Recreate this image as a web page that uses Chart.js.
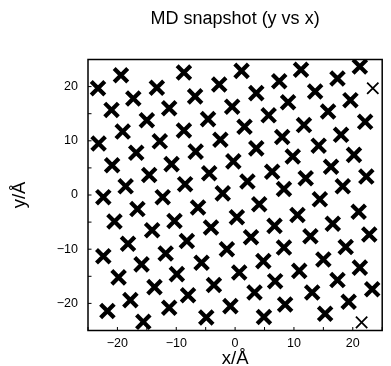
<!DOCTYPE html>
<html>
<head>
<meta charset="utf-8">
<script src="https://cdn.jsdelivr.net/npm/chart.js@4.4.1/dist/chart.umd.min.js"></script>
<style>
  html, body { margin: 0; padding: 0; background: #fff; overflow: hidden; }
  #wrap { width: 396px; height: 366px; }
</style>
</head>
<body>
<div id="wrap"><canvas id="c" width="396" height="366"></canvas></div>
<script>
// Atom positions (Å): dense clusters
const siteX = [-19.4,-8.7,-23.3,-13.3,-17.3,-21.0,-11.2,-15.0,-19.1,-8.7,-23.2,-12.8,-16.8,-20.9,-10.8,-14.6,-18.6,-8.5,-22.4,-12.3,-16.6,-20.5,-10.3,-14.1,-18.2,-8.2,-22.4,-11.8,-15.9,-19.8,-9.9,-13.7,-17.8,-8.0,-21.7,-11.2,-15.6,
  1.1,-2.7,7.5,-6.8,3.6,-0.5,-4.6,5.7,1.6,-2.5,8.0,-6.7,3.6,-0.3,-4.4,6.3,2.1,-2.1,8.3,
  11.2,21.2,17.4,13.6,9.0,19.6,15.8,11.7,22.1,18.0,14.2,9.8,20.2,16.3,12.0,22.3,18.3,14.4,
  -6.3,4.1,0.3,-4.1,6.7,2.7,-1.4,8.3,-5.7,4.8,0.7,-3.6,6.8,3.3,-0.8,8.5,-4.9,4.9,
  10.6,21.0,16.6,12.8,22.8,18.8,15.0,10.9,21.2,17.4,23.3,13.1,19.3,15.3];
const siteY = [22.1,22.6,19.7,19.8,17.8,15.7,16.0,13.8,11.7,11.9,9.5,9.9,7.8,5.5,5.7,3.7,1.6,2.0,-0.4,-0.4,-2.6,-4.9,-4.8,-6.5,-9.0,-8.5,-11.3,-10.8,-12.8,-15.2,-14.6,-17.0,-19.4,-18.5,-21.4,-20.8,-23.4,
  22.9,20.4,21.0,18.2,18.8,16.3,14.0,14.7,12.6,10.2,10.7,8.0,8.6,6.2,4.0,4.3,2.5,0.3,1.1,
  23.1,23.7,21.5,19.1,17.1,17.5,15.4,12.9,13.5,11.1,9.1,7.1,7.4,5.2,3.1,3.4,1.6,-0.8,
  -2.3,-1.7,-4.1,-6.0,-5.7,-7.8,-10.0,-9.7,-12.5,-12.2,-14.3,-16.6,-15.9,-18.0,-20.5,-20.2,-22.6,-22.5,
  -3.7,-3.1,-5.3,-7.6,-7.3,-9.6,-11.9,-14.0,-13.4,-15.7,-17.4,-18.0,-19.7,-21.9];
// Sparse (single) markers
const thinX = [23.4, 21.5];
const thinY = [19.7, -23.5];
const tickValues = [-20, -10, 0, 10, 20];

const FONT = '"Liberation Sans", Arial, Helvetica, sans-serif';
const toPts = (xs, ys) => xs.map((x, i) => ({ x: x, y: ys[i] }));
const fmt = v => tickValues.includes(v) ? String(v).replace('-', '\u2212') : '';

const frame = {
  id: 'frame',
  afterDraw(chart) {
    const { ctx, chartArea: a, scales } = chart;
    ctx.save();
    ctx.strokeStyle = '#000';
    ctx.lineWidth = 1.5;
    ctx.strokeRect(a.left, a.top, a.right - a.left, a.bottom - a.top);
    ctx.lineWidth = 1;
    ctx.beginPath();
    scales.x.ticks.forEach(t => {
      const p = scales.x.getPixelForValue(t.value);
      ctx.moveTo(p, a.bottom); ctx.lineTo(p, a.bottom - 3.5);
    });
    scales.y.ticks.forEach(t => {
      const p = scales.y.getPixelForValue(t.value);
      ctx.moveTo(a.left, p); ctx.lineTo(a.left + 3.5, p);
    });
    ctx.stroke();
    ctx.restore();
  }
};

new Chart(document.getElementById('c'), {
  type: 'scatter',
  data: {
    datasets: [
      { data: toPts(siteX, siteY), pointStyle: 'crossRot', radius: 9.6, borderWidth: 4.2,
        borderColor: '#000', backgroundColor: '#000', hoverRadius: 9.6 },
      { data: toPts(thinX, thinY), pointStyle: 'crossRot', radius: 8, borderWidth: 1.8,
        borderColor: '#000', backgroundColor: '#000', hoverRadius: 8 }
    ]
  },
  options: {
    responsive: false,
    animation: false,
    layout: { padding: { left: 0, right: 3, top: 0, bottom: 0 } },
    plugins: {
      legend: { display: false },
      tooltip: { enabled: false },
      title: {
        display: true, text: 'MD snapshot (y vs x)', fullSize: false,
        color: '#000', font: { family: FONT, size: 18, weight: 'normal' },
        padding: { top: 8.7, bottom: 29.2 }
      }
    },
    scales: {
      x: {
        type: 'linear', min: -25, max: 25,
        ticks: { stepSize: 5, autoSkip: false, maxRotation: 0, callback: fmt, color: '#000',
                 font: { family: FONT, size: 12.5 }, padding: 6 },
        grid: { display: false, drawTicks: false },
        border: { display: false },
        title: { display: true, text: 'x/Å', color: '#000', font: { family: FONT, size: 18.5, lineHeight: 0.8 },
                 padding: { top: 0, bottom: 0 } },
        afterFit(s) { s.height = 35.5; }
      },
      y: {
        type: 'linear', min: -25, max: 25,
        ticks: { stepSize: 5, autoSkip: false, callback: fmt, color: '#000',
                 font: { family: FONT, size: 12.5 }, padding: 10 },
        grid: { display: false, drawTicks: false },
        border: { display: false },
        title: { display: true, text: 'y/Å', color: '#000', font: { family: FONT, size: 18.5 },
                 padding: { top: 9, bottom: 0 } },
        afterFit(s) { s.width = 88; }
      }
    }
  },
  plugins: [frame]
});
</script>
</body>
</html>
